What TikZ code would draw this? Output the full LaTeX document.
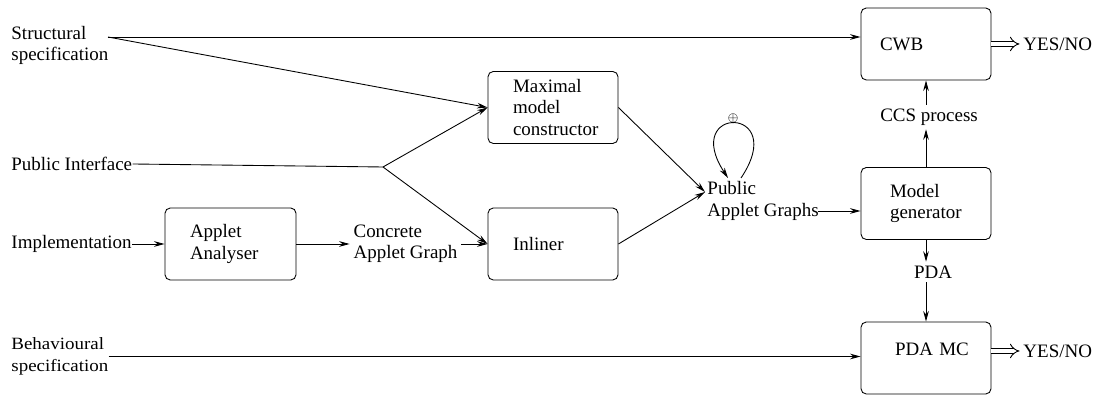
\documentclass[tikz,border=0pt]{standalone}
\usepackage{fontspec}
\setmainfont{Liberation Serif}
\newfontfamily\behfont[FakeStretch=1.1]{Liberation Serif}
\usetikzlibrary{arrows.meta}

\begin{document}
\begin{tikzpicture}[line width=0.5pt,
  >={Stealth[length=6pt,width=3.2pt]},
  box/.style={draw,rounded corners=3pt,align=left,inner sep=0pt,minimum width=2.6cm,minimum height=1.44cm},
  txt/.style={align=left,inner sep=2pt},
  verdict/.style={double,double distance=2.4pt,-{Implies}}]
\fontsize{10.8}{12.2}\selectfont
\useasboundingbox (0,0) rectangle (21.92,7.92);

\node[txt,anchor=west,inner sep=0pt] (sspec) at (0.22,7.01) {Structural\\specification};
\node[txt,anchor=west,inner sep=0pt] (pubif) at (0.22,4.64) {Public Interface};
\node[txt,anchor=west,inner sep=0pt] (impl) at (0.22,3.04) {Implementation};
\node[txt,anchor=west,inner sep=0pt,font={\behfont\fontsize{9.8}{12.2}\selectfont}] (bspec) at (0.22,0.79) {Behavioural\\specification};

\node[box,minimum width=2.62cm,text width=1.62cm] (analyser) at (4.61,3.04) {Applet\\Analyser};
\node[box,text width=1.6cm] (maxmod) at (11.06,5.77) {Maximal\\model\\constructor};
\node[box,text width=1.6cm] (inliner) at (11.06,3.04) {Inliner};
\node[box,text width=1.84cm] (cwb) at (18.52,7.04) {CWB};
\node[box,text width=1.44cm] (modgen) at (18.52,3.85) {Model\\generator};
\node[box,text width=1.24cm,text depth=0.35cm] (pdamc) at (18.52,0.76) {\mbox{PDA MC}};

\node[txt] (concrete) at (8.11,3.04) {Concrete\\Applet Graph};
\node[txt,anchor=west,inner sep=0pt] (public) at (14.14,3.90) {Public\\Applet Graphs};
\node[txt] (ccs) at (18.58,5.58) {CCS process};
\node[txt] (pda) at (18.66,2.48) {PDA};
\node[txt,anchor=west,inner sep=0pt] (yes1) at (20.46,7.04) {YES/NO};
\node[txt,anchor=west,inner sep=0pt] (yes2) at (20.46,0.90) {YES/NO};
\node[font=\scriptsize,inner sep=0pt] (oplus) at (14.66,5.56) {$\oplus$};

\coordinate (sfrom) at (2.16,7.18);
\coordinate (fork) at (7.66,4.58);
\coordinate (pin) at (14.10,4.08);
\coordinate (loopout) at (14.82,4.36);
\coordinate (loopin) at (14.56,4.36);
\coordinate (pout) at (16.36,3.70);

\draw[->] (sfrom) -- (sfrom -| cwb.west);
\draw[->] (sfrom) -- (maxmod.west);
\draw (pubif.east) -- (fork);
\draw[->] (fork) -- (maxmod.west);
\draw[->] (fork) -- (inliner.west);
\draw[->] (impl.east) -- (impl.east -| analyser.west);
\draw[->] (analyser.east) -- (concrete.west |- analyser.east);
\draw[->] (concrete.east |- inliner.west) -- (inliner.west);
\draw[->] (maxmod.east) -- (pin);
\draw[->] (inliner.east) -- (pin);
\draw[->] (loopout) .. controls (15.80,5.82) and (13.60,5.82) .. (loopin);
\draw[->] (pout) -- (pout -| modgen.west);
\draw[->] (modgen.north) -- (modgen.north |- ccs.south);
\draw[->] (modgen.north |- ccs.north) -- (cwb.south);
\draw[->] (modgen.south) -- (modgen.south |- pda.north);
\draw[->] (modgen.south |- pda.south) -- (pdamc.north);
\draw[->] (bspec.east) -- (bspec.east -| pdamc.west);
\draw[verdict] (cwb.east) -- ([xshift=-2pt]yes1.west);
\draw[verdict] (pdamc.east |- yes2.west) -- ([xshift=-2pt]yes2.west);
\end{tikzpicture}
\end{document}
